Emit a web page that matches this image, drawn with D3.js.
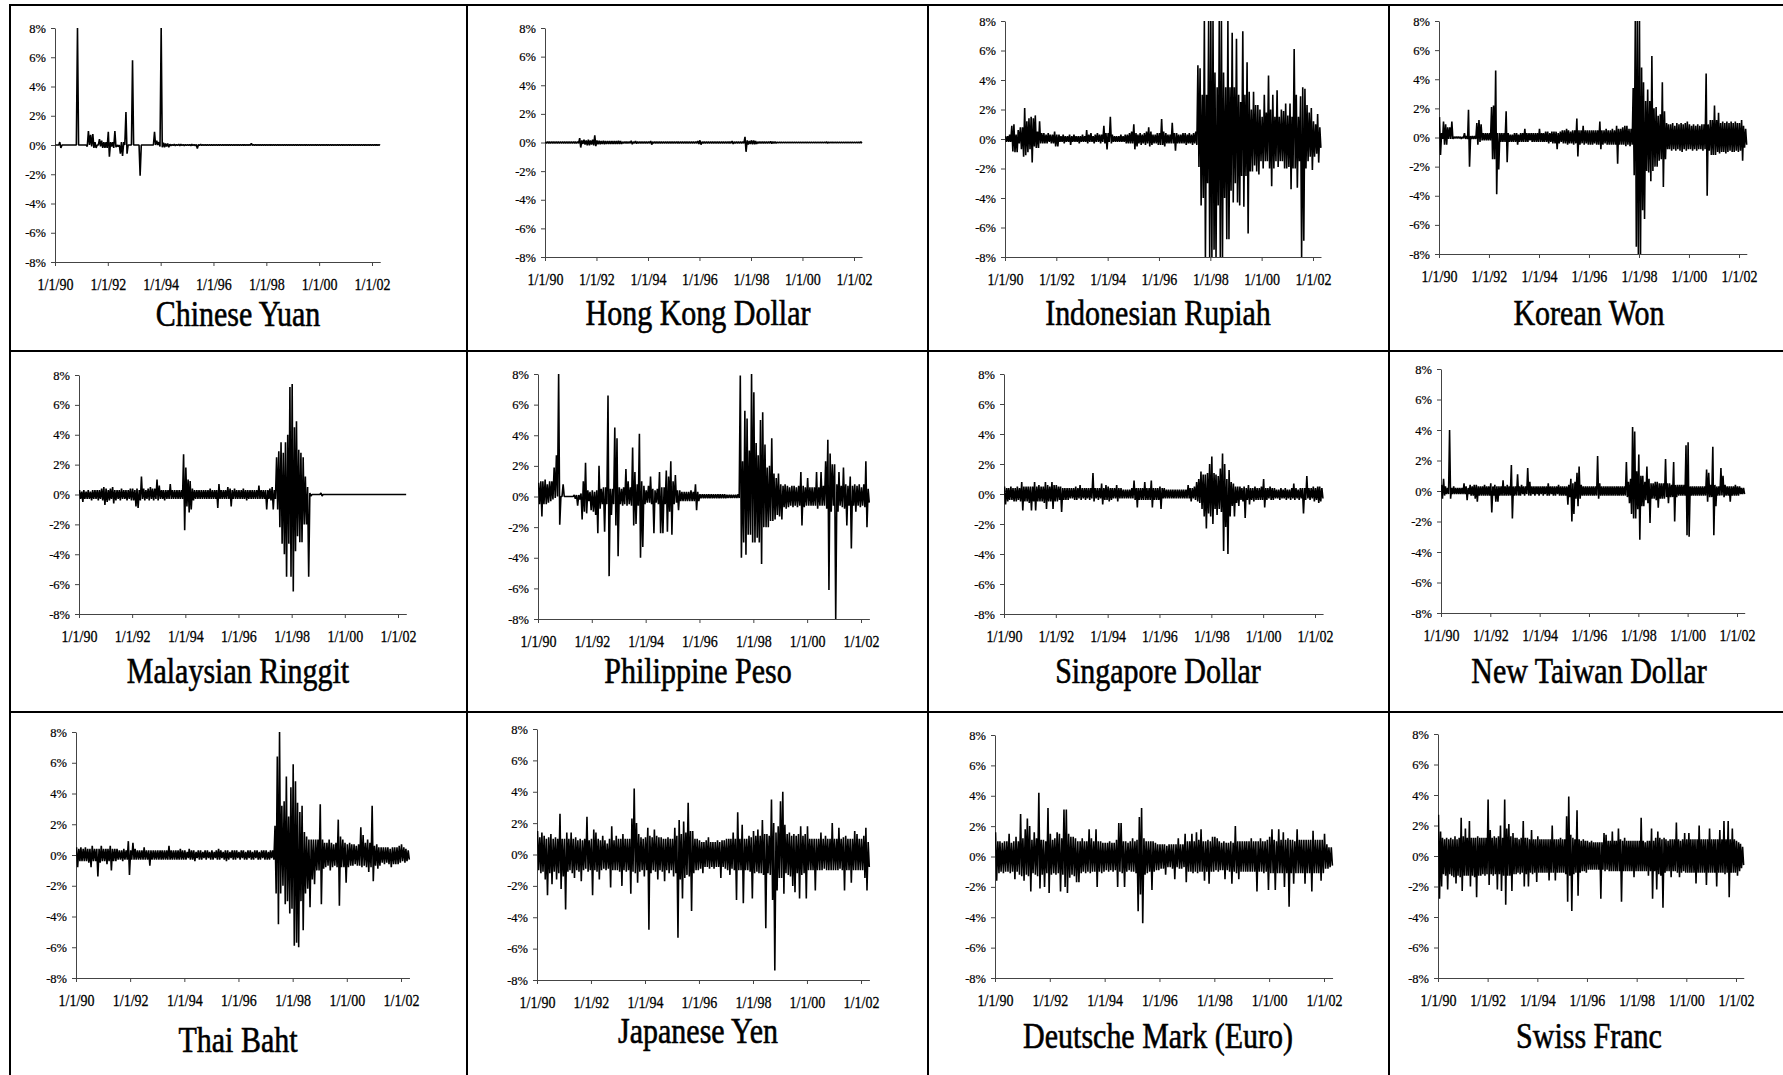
<!DOCTYPE html>
<html>
<head>
<meta charset="utf-8">
<script src="https://cdn.jsdelivr.net/npm/d3@7/dist/d3.min.js"></script>
<style>
  html, body { margin: 0; padding: 0; background: #fff; }
  svg { display: block; }
</style>
</head>
<body>
<svg id="chart" width="1783" height="1075"></svg>
<script>
// Daily exchange-rate returns (%), 1/1990 - 4/2002, summarised as the
// high and low reading of each month (Jan 1990 ... Apr 2002, 148 months).

const currencies = [
  "Chinese Yuan", "Hong Kong Dollar", "Indonesian Rupiah", "Korean Won",
  "Malaysian Ringgit", "Philippine Peso", "Singapore Dollar", "New Taiwan Dollar",
  "Thai Baht", "Japanese Yen", "Deutsche Mark (Euro)", "Swiss Franc"
];
const yTicks = [-8, -6, -4, -2, 0, 2, 4, 6, 8];
const xTickYears = [1990, 1992, 1994, 1996, 1998, 2000, 2002];

const cnyHigh = [
  0,0,0.2,0,0,0,0,0,0,0,8,0,
  0,0,0,0.95,0.7,0.75,0.2,0,0.4,0.3,0.2,0.2,
  0.9,0.2,0.2,0.95,0,0,0.2,0.2,2.25,0,0,5.8,
  0,0,0,0,0,0,0,0,0,0.9,0.3,0.2,
  8,0.15,0.1,0.1,0.05,0.03,0.05,0.03,0.05,0.05,0.03,0.03,
  0.03,0.03,0.05,0.03,0.03,0.03,0.05,0.03,0.03,0.03,0.03,0.03,
  0.03,0.02,0.02,0.03,0.02,0.02,0.02,0.02,0.03,0.02,0.02,0.02,
  0.02,0.02,0.02,0.02,0.02,0.1,0.02,0.02,0.02,0.02,0.02,0.02,
  0.02,0.02,0.02,0.02,0.02,0.02,0.02,0.02,0.02,0.02,0.02,0.02,
  0.02,0.02,0.02,0.02,0.02,0.02,0.02,0.02,0.02,0.02,0.02,0.02,
  0.02,0.02,0.02,0.02,0.02,0.02,0.02,0.02,0.02,0.02,0.02,0.02,
  0.02,0.02,0.02,0.02,0.02,0.02,0.02,0.02,0.02,0.02,0.02,0.02,
  0.02,0.02,0.02,0.02
];
const cnyLow = [
  0,0,-0.2,0,0,0,0,0,0,0,0,0,
  0,0,-0.1,0,-0.1,-0.2,-0.2,0,-0.1,-0.2,-0.2,-0.2,
  -0.8,-0.1,-0.2,-0.15,-0.1,-0.6,-0.75,0,-0.6,0,0,0,
  0,0,-2.1,0,0,0,0,0,0,0,0,-0.1,
  -0.15,-0.15,-0.1,-0.15,-0.05,-0.03,-0.05,-0.03,-0.05,-0.03,-0.05,-0.03,
  -0.03,-0.05,-0.03,-0.05,-0.25,-0.03,-0.03,-0.03,-0.03,-0.03,-0.03,-0.03,
  -0.02,-0.03,-0.02,-0.02,-0.02,-0.02,-0.02,-0.02,-0.02,-0.02,-0.02,-0.02,
  -0.02,-0.02,-0.02,-0.02,-0.02,-0.02,-0.02,-0.02,-0.02,-0.02,-0.02,-0.02,
  -0.02,-0.02,-0.02,-0.02,-0.02,-0.02,-0.02,-0.02,-0.02,-0.02,-0.02,-0.02,
  -0.02,-0.02,-0.02,-0.02,-0.02,-0.02,-0.02,-0.02,-0.02,-0.02,-0.02,-0.02,
  -0.02,-0.02,-0.02,-0.02,-0.02,-0.02,-0.02,-0.02,-0.02,-0.02,-0.02,-0.02,
  -0.02,-0.02,-0.02,-0.02,-0.02,-0.02,-0.02,-0.02,-0.02,-0.02,-0.02,-0.02,
  -0.02,-0.02,-0.02,-0.02
];

const hkdHigh = [
  0.05,0.05,0.05,0.05,0.05,0.05,0.05,0.05,0.05,0.05,0.05,0.05,
  0.05,0.05,0.05,0.05,0.3,0.15,0.2,0.15,0.2,0.15,0.2,0.5,
  0.15,0.12,0.1,0.12,0.1,0.1,0.1,0.1,0.1,0.1,0.12,0.1,
  0.05,0.05,0.05,0.05,0.12,0.05,0.1,0.05,0.05,0.05,0.05,0.05,
  0.05,0.1,0.05,0.05,0.05,0.05,0.05,0.05,0.05,0.05,0.05,0.05,
  0.05,0.05,0.05,0.05,0.05,0.05,0.05,0.05,0.05,0.05,0.05,0.1,
  0.15,0.05,0.05,0.05,0.05,0.05,0.05,0.05,0.05,0.05,0.05,0.05,
  0.05,0.05,0.05,0.1,0.05,0.05,0.05,0.05,0.05,0.4,0.15,0.1,
  0.15,0.15,0.1,0.05,0.05,0.05,0.05,0.05,0.05,0.08,0.05,0.05,
  0.03,0.03,0.03,0.03,0.03,0.03,0.03,0.03,0.03,0.03,0.03,0.03,
  0.03,0.03,0.03,0.03,0.03,0.03,0.03,0.03,0.03,0.03,0.03,0.05,
  0.03,0.03,0.03,0.03,0.03,0.03,0.03,0.03,0.03,0.03,0.03,0.03,
  0.03,0.03,0.03,0.05
];
const hkdLow = [
  -0.05,-0.05,-0.05,-0.05,-0.05,-0.05,-0.05,-0.05,-0.05,-0.05,-0.05,-0.05,
  -0.05,-0.05,-0.05,-0.05,-0.35,-0.1,-0.15,-0.2,-0.2,-0.15,-0.2,-0.25,
  -0.12,-0.12,-0.1,-0.12,-0.1,-0.1,-0.1,-0.1,-0.1,-0.1,-0.1,-0.1,
  -0.05,-0.05,-0.05,-0.05,-0.12,-0.05,-0.08,-0.05,-0.05,-0.05,-0.05,-0.05,
  -0.05,-0.15,-0.05,-0.05,-0.05,-0.05,-0.05,-0.05,-0.05,-0.05,-0.05,-0.05,
  -0.05,-0.05,-0.05,-0.05,-0.05,-0.05,-0.05,-0.05,-0.05,-0.05,-0.05,-0.1,
  -0.15,-0.05,-0.05,-0.05,-0.05,-0.05,-0.05,-0.05,-0.05,-0.05,-0.05,-0.05,
  -0.05,-0.05,-0.05,-0.1,-0.05,-0.05,-0.05,-0.05,-0.05,-0.65,-0.15,-0.1,
  -0.12,-0.12,-0.1,-0.05,-0.05,-0.05,-0.05,-0.05,-0.05,-0.08,-0.05,-0.05,
  -0.03,-0.03,-0.03,-0.03,-0.03,-0.03,-0.03,-0.03,-0.03,-0.03,-0.03,-0.03,
  -0.03,-0.03,-0.03,-0.03,-0.03,-0.03,-0.03,-0.03,-0.03,-0.03,-0.03,-0.05,
  -0.03,-0.03,-0.03,-0.03,-0.03,-0.03,-0.03,-0.03,-0.03,-0.03,-0.03,-0.03,
  -0.03,-0.03,-0.03,-0.05
];

const idrHigh = [
  0.2,0.2,0.3,0.9,1.0,0.3,0.6,0.8,0.8,2.1,1.2,1.4,
  1.5,1.4,1.6,0.5,1.2,0.4,0.4,0.3,0.4,0.3,0.3,0.5,
  0.3,0.3,0.2,0.3,0.2,0.2,0.3,0.2,0.3,0.2,0.2,0.2,
  0.3,0.2,0.6,0.3,0.4,0.2,0.3,0.4,0.3,0.3,0.9,0.4,
  0.4,1.5,0.3,0.2,0.2,0.2,0.3,0.2,0.3,0.3,0.4,0.5,
  1.0,0.4,0.3,0.4,0.3,0.4,0.5,0.8,0.5,0.3,0.3,0.4,
  0.4,1.35,0.5,0.4,0.3,0.3,1.1,0.4,0.4,0.3,0.3,0.4,
  0.4,0.3,0.4,0.3,0.4,0.5,5.0,4.8,3.0,8,3.0,8,
  8,8,4.5,3.5,8,8,4.5,3.5,8,3.5,7.2,3.5,
  6.8,3.0,2.5,7.3,3.0,5.2,3.2,2.0,3.2,2.3,2.3,2.0,
  1.5,3.0,1.8,4.3,2.0,3.0,1.5,3.3,1.5,2.0,1.9,2.4,
  1.6,2.4,1.5,6.1,3.0,1.5,2.9,3.5,3.4,2.3,1.8,2.1,
  1.2,1.0,1.7,0.8
];
const idrLow = [
  -0.2,-0.2,-0.2,-0.85,-0.9,-0.9,-0.3,-0.7,-1.2,-1.1,-0.9,-0.7,
  -1.6,-0.5,-0.6,-0.6,-0.3,-0.3,-0.3,-0.3,-0.2,-0.3,-0.3,-0.5,
  -0.5,-0.2,-0.2,-0.3,-0.2,-0.2,-0.4,-0.2,-0.2,-0.2,-0.3,-0.2,
  -0.2,-0.2,-0.3,-0.2,-0.2,-0.3,-0.2,-0.2,-0.3,-0.2,-0.3,-0.7,
  -0.2,-0.3,-0.2,-0.2,-0.2,-0.2,-0.2,-0.2,-0.3,-0.3,-0.3,-0.3,
  -0.7,-0.5,-0.3,-0.4,-0.3,-0.4,-0.3,-0.5,-0.4,-0.3,-0.3,-0.4,
  -0.4,-0.4,-0.5,-0.3,-0.3,-0.3,-0.3,-0.8,-0.3,-0.3,-0.3,-0.3,
  -0.4,-0.3,-0.3,-0.4,-0.3,-0.4,-1.9,-4.5,-4.0,-8,-3.0,-8,
  -8,-7.5,-8,-4.5,-8,-8,-4.0,-6.8,-6.8,-3.5,-4.3,-3.0,
  -4.3,-4.5,-2.5,-4.6,-2.5,-6.4,-2.2,-2.2,-1.8,-2.2,-2.4,-1.5,
  -2.0,-1.5,-1.5,-2.0,-3.2,-2.0,-1.5,-1.9,-1.5,-1.5,-2.0,-2.0,
  -1.9,-3.4,-2.0,-2.0,-3.3,-1.5,-8,-6.9,-2.0,-1.5,-1.2,-2.1,
  -1.2,-1.0,-1.6,-0.6
];

const krwHigh = [
  1.4,0.3,1.1,0.9,0.7,0.7,1.1,0.05,0.05,0.05,0.05,0.05,
  0.3,0.1,1.9,0.1,0.1,0.1,1.0,1.2,0.9,0.3,0.3,0.3,
  0.3,2.1,2.2,4.6,0.3,0.3,0.3,0.3,1.8,0.3,0.2,0.2,
  0.3,0.3,0.2,0.3,0.3,0.6,0.3,0.3,0.3,0.3,0.3,0.3,
  0.6,0.3,0.3,0.4,0.4,0.3,0.4,0.4,0.4,0.3,0.4,0.5,
  0.5,0.6,0.5,0.4,0.5,0.5,1.3,0.5,0.5,0.8,0.5,0.5,
  0.5,0.5,0.5,0.5,0.5,1.1,0.5,0.5,0.6,0.5,0.5,0.6,
  0.5,0.8,0.6,0.6,0.7,0.8,0.8,0.6,0.6,3.4,8,8,
  8,4.8,3.8,2.5,3.3,2.5,5.6,2.0,2.1,1.5,1.6,3.8,
  1.8,1.0,0.9,0.9,1.0,0.8,1.0,0.9,1.0,0.9,1.0,1.1,
  0.9,0.8,0.9,0.8,0.9,0.8,0.9,0.9,4.4,0.9,1.2,1.2,
  2.2,1.2,1.7,1.0,1.1,1.0,1.1,1.0,1.1,1.0,1.1,1.0,
  1.0,1.2,0.8,0.6
];
const krwLow = [
  -1.2,-0.1,-0.5,-0.5,-0.1,-0.1,-0.1,-0.05,-0.05,-0.05,-0.1,-0.05,
  -0.1,-0.1,-2.0,-0.1,-0.1,-0.1,-0.5,-0.3,-0.2,-0.2,-0.2,-0.2,
  -0.2,-1.5,-1.5,-3.9,-2.2,-0.3,-0.3,-0.3,-1.7,-0.3,-0.3,-0.3,
  -0.3,-0.5,-0.3,-0.3,-0.3,-0.3,-0.3,-0.2,-0.3,-0.3,-0.3,-0.3,
  -0.3,-0.3,-0.3,-0.3,-0.4,-0.3,-0.4,-0.4,-0.8,-0.4,-0.3,-0.4,
  -0.4,-0.5,-0.4,-0.4,-0.5,-0.4,-1.3,-0.5,-0.4,-0.5,-0.4,-0.5,
  -0.5,-0.5,-0.4,-0.5,-0.5,-0.8,-0.5,-0.4,-0.5,-0.5,-0.5,-0.5,
  -0.5,-1.8,-0.5,-0.5,-0.5,-0.6,-0.5,-0.6,-0.5,-2.6,-7.5,-8,
  -8,-5.0,-5.6,-2.3,-2.4,-3.0,-2.3,-2.0,-2.0,-1.6,-1.5,-3.4,
  -1.5,-0.8,-0.8,-0.9,-0.8,-0.9,-0.8,-0.9,-1.0,-0.8,-0.9,-0.8,
  -0.8,-0.9,-0.8,-0.9,-0.8,-0.8,-0.9,-0.8,-4.0,-0.9,-1.2,-1.2,
  -1.2,-1.0,-1.1,-1.0,-1.0,-1.1,-1.0,-0.9,-1.0,-1.0,-0.9,-1.0,
  -0.9,-1.6,-0.7,-0.5
];

const myrHigh = [
  0.3,0.2,0.3,0.2,0.3,0.2,0.3,0.3,0.3,0.3,0.4,0.5,
  0.4,0.3,0.4,0.5,0.3,0.3,0.3,0.4,0.3,0.3,0.3,0.4,
  0.4,0.3,0.4,0.3,1.2,0.4,0.3,0.4,0.5,0.4,0.4,1.0,
  0.6,0.3,0.3,0.3,0.3,0.7,0.3,0.3,0.3,0.3,0.3,2.7,
  1.8,1.0,0.9,0.4,0.3,0.3,0.3,0.3,0.3,0.3,0.3,0.4,
  0.3,0.3,0.3,0.7,0.3,0.3,0.3,0.5,0.4,0.3,0.4,0.3,
  0.3,0.3,0.4,0.3,0.3,0.3,0.3,0.3,0.3,0.6,0.3,0.3,
  0.3,0.3,0.4,0.5,0.3,2.5,2.9,3.5,2.8,3.5,4.0,7.2,
  7.4,4.5,4.9,3.0,2.8,2.5,1.2,0.5,0.1,0,0,0,
  0,0.1,0,0,0,0,0,0,0,0,0,0,
  0,0,0,0,0,0,0,0,0,0,0,0,
  0,0,0,0,0,0,0,0,0,0,0,0,
  0,0,0,0
];
const myrLow = [
  -0.3,-0.5,-0.3,-0.3,-0.3,-0.4,-0.3,-0.3,-0.4,-0.3,-0.4,-0.7,
  -0.5,-0.4,-0.3,-0.6,-0.4,-0.3,-0.4,-0.3,-0.3,-0.4,-0.3,-0.4,
  -0.4,-0.8,-0.9,-0.4,-0.3,-0.4,-0.3,-0.4,-0.3,-0.4,-0.3,-0.4,
  -0.3,-0.3,-0.4,-0.3,-0.3,-0.3,-0.3,-0.3,-0.3,-0.3,-0.3,-2.4,
  -0.8,-1.2,-1.0,-0.4,-0.3,-0.3,-0.3,-0.3,-0.3,-0.3,-0.3,-0.3,
  -0.3,-0.3,-0.9,-0.3,-0.3,-0.3,-0.3,-0.3,-0.8,-0.3,-0.3,-0.3,
  -0.3,-0.3,-0.3,-0.4,-0.3,-0.3,-0.3,-0.3,-0.3,-0.3,-0.3,-0.3,
  -1.0,-0.3,-0.4,-1.0,-0.3,-1.0,-2.2,-3.3,-4.0,-5.5,-3.3,-5.5,
  -6.5,-3.8,-2.8,-3.2,-3.2,-2.0,-2.0,-5.5,-0.1,0,0,0,
  0,-0.1,0,0,0,0,0,0,0,0,0,0,
  0,0,0,0,0,0,0,0,0,0,0,0,
  0,0,0,0,0,0,0,0,0,0,0,0,
  0,0,0,0
];

const phpHigh = [
  0.9,1.0,1.0,1.1,0.8,1.0,1.0,1.9,2.7,8,0,0.8,
  0,0,0,0,0.1,0.1,0.1,0.2,1.0,2.2,0.4,0.3,
  0.4,0.3,0.4,2.0,0.5,0.6,0.6,6.6,0.5,0.5,4.5,3.8,
  0.6,0.5,0.6,1.8,1.0,0.6,3.2,1.6,0.8,4.1,1.0,0.7,
  0.4,0.7,1.3,0.5,0.4,0.5,1.6,0.6,0.6,1.7,1.3,2.3,
  1.0,1.4,0.4,0.4,0.3,0.3,0.3,0.3,0.4,0.3,0.8,0.3,
  0.15,0.15,0.15,0.15,0.15,0.15,0.15,0.15,0.15,0.15,0.15,0.15,
  0.12,0.12,0.12,0.12,0.12,0.15,7.9,2.3,5.6,5.1,3.0,8,
  6.8,3.5,2.7,5.0,5.5,3.4,1.9,2.0,3.8,1.5,1.2,1.5,
  0.8,0.7,0.8,0.7,0.6,0.7,0.7,0.6,0.7,1.6,0.7,0.6,
  1.2,0.6,0.6,0.6,1.6,0.6,1.6,0.7,2.3,3.7,2.8,2.1,
  2.1,0.8,1.6,0.7,1.9,0.8,0.7,1.3,0.7,0.8,0.7,0.8,
  0.6,0.8,2.3,0.5
];
const phpLow = [
  -0.5,-1.3,-0.5,-0.5,-0.4,-0.3,-0.2,-0.1,0,-1.85,0,0,
  0,0,0,0,-0.15,-0.6,-0.2,-1.5,-1.0,-1.1,-0.3,-0.9,
  -1.0,-1.2,-2.4,-0.8,-0.5,-2.3,-0.5,-5.2,-1.2,-0.5,-1.9,-3.9,
  -0.5,-0.6,-0.5,-0.6,-0.5,-0.6,-1.9,-1.8,-0.6,-4.0,-3.3,-0.5,
  -0.4,-0.4,-0.5,-2.4,-0.4,-0.5,-2.4,-2.4,-0.5,-2.3,-1.0,-2.5,
  -0.5,-0.4,-0.9,-0.3,-0.3,-0.3,-0.3,-0.3,-0.3,-0.3,-0.9,-0.3,
  -0.12,-0.12,-0.12,-0.12,-0.12,-0.12,-0.12,-0.12,-0.12,-0.12,-0.12,-0.12,
  -0.1,-0.1,-0.1,-0.1,-0.1,-0.1,-4.0,-3.0,-3.8,-2.5,-2.5,-3.0,
  -3.0,-2.7,-3.0,-4.4,-2.0,-2.0,-2.0,-1.6,-1.6,-1.5,-1.2,-1.3,
  -1.5,-0.7,-0.8,-0.7,-0.6,-0.7,-0.6,-0.7,-0.6,-1.9,-0.7,-0.6,
  -0.6,-0.6,-0.6,-0.6,-0.8,-0.6,-0.6,-0.6,-0.8,-6.1,-1.0,-0.6,
  -8,-1.0,-0.6,-0.7,-0.8,-1.9,-0.6,-3.4,-0.6,-1.0,-0.6,-0.7,
  -0.6,-0.7,-2.0,-0.4
];

const sgdHigh = [
  0.5,0.4,0.4,0.5,0.4,0.4,0.5,0.4,0.8,0.5,0.5,0.5,
  0.5,0.5,0.8,0.5,0.6,0.5,0.5,0.8,0.6,0.5,0.8,0.6,
  0.6,0.5,0.5,0.4,0.4,0.4,0.4,0.4,0.4,0.5,0.4,0.6,
  0.4,0.4,0.4,0.4,0.4,1.4,0.4,0.4,0.4,0.7,0.4,0.6,
  0.5,0.4,0.4,0.4,0.6,0.4,0.4,0.3,0.3,0.3,0.3,0.4,
  0.9,0.4,0.4,0.4,0.4,0.8,0.4,0.4,0.9,0.4,0.4,0.4,
  0.5,0.4,0.4,0.3,0.3,0.3,0.3,0.3,0.3,0.3,0.3,0.3,
  0.3,0.6,0.4,0.4,0.5,0.8,1.0,1.5,1.3,1.3,1.4,2.0,
  2.5,1.4,1.3,1.2,1.7,2.7,2.0,1.0,1.6,0.8,0.7,0.5,
  0.5,0.5,0.4,0.5,0.4,0.6,0.4,0.4,0.5,0.4,0.4,0.5,
  1.0,0.4,0.4,0.5,0.4,0.4,0.3,0.3,0.4,0.3,0.4,0.3,
  0.3,0.4,0.7,0.4,0.3,0.4,0.4,0.4,1.2,0.4,0.4,0.5,
  0.4,0.5,0.5,0.4
];
const sgdLow = [
  -0.7,-0.5,-0.4,-0.4,-0.5,-0.5,-0.4,-0.5,-1.1,-0.5,-0.5,-0.6,
  -1.1,-0.5,-1.1,-0.5,-0.5,-0.5,-0.6,-1.0,-0.5,-0.5,-1.0,-0.5,
  -0.5,-0.4,-1.2,-0.4,-0.4,-0.4,-0.3,-0.3,-0.4,-0.4,-0.3,-0.4,
  -0.3,-0.4,-0.3,-0.4,-0.3,-0.5,-0.3,-0.4,-0.3,-0.7,-0.4,-0.4,
  -0.5,-0.4,-0.3,-0.3,-0.5,-0.3,-0.3,-0.3,-0.3,-0.3,-0.3,-0.3,
  -0.4,-0.9,-0.4,-0.4,-0.4,-0.4,-0.4,-0.4,-0.9,-0.4,-0.4,-0.4,
  -1.0,-0.3,-0.3,-0.3,-0.3,-0.3,-0.3,-0.3,-0.3,-0.3,-0.3,-0.3,
  -0.3,-0.3,-0.5,-0.3,-0.4,-0.5,-0.6,-1.0,-1.5,-2.3,-1.3,-1.5,
  -2.0,-1.0,-1.4,-1.0,-1.2,-3.8,-2.2,-4.0,-1.5,-0.8,-1.5,-0.6,
  -0.8,-0.4,-0.5,-1.6,-0.4,-0.7,-0.4,-0.5,-0.4,-0.4,-0.4,-0.4,
  -0.9,-0.4,-0.3,-0.4,-0.4,-0.3,-0.3,-0.4,-0.3,-0.3,-0.4,-0.3,
  -0.4,-0.3,-0.4,-0.3,-0.4,-0.3,-1.3,-0.4,-0.3,-0.4,-0.3,-0.5,
  -0.4,-0.6,-0.5,-0.3
];

const twdHigh = [
  0.4,0.8,0.3,0.2,4.0,0.2,0.3,0.2,0.2,0.2,0.2,0.5,
  0.3,0.2,0.4,0.3,0.4,0.4,0.3,0.3,0.3,0.4,0.3,0.3,
  0.5,0.3,0.4,0.3,0.3,0.3,0.7,0.3,0.4,0.3,1.7,0.3,
  0.3,1.1,0.3,0.4,0.3,0.3,1.5,0.6,0.3,0.3,0.3,0.3,
  0.3,0.3,0.3,0.3,0.5,0.3,0.3,0.3,0.3,0.4,0.3,0.3,
  0.3,0.3,0.4,0.8,0.5,0.6,1.2,1.6,0.4,0.3,0.3,0.3,
  0.3,0.3,0.3,0.3,2.3,0.5,0.3,0.3,0.3,0.3,0.3,0.3,
  0.3,0.3,0.3,0.3,0.3,0.3,1.9,0.6,0.8,4.2,3.9,1.3,
  2.4,1.0,1.0,0.6,1.6,0.8,0.5,0.5,0.6,0.6,0.5,0.5,
  0.5,2.1,0.5,0.5,0.4,1.9,0.4,0.4,0.4,0.4,0.4,3.0,
  3.2,0.3,0.3,0.3,0.3,0.3,0.3,0.3,0.3,1.4,1.2,0.4,
  2.9,0.4,0.3,0.3,1.5,1.0,0.4,0.3,0.3,0.3,0.3,0.4,
  0.3,0.3,0.2,0.2
];
const twdLow = [
  -0.5,-0.3,-0.2,-0.2,-0.5,-0.2,-0.2,-0.2,-0.2,-0.2,-0.2,-0.2,
  -0.6,-0.2,-0.3,-0.3,-0.5,-0.7,-0.3,-0.3,-0.3,-0.3,-0.3,-0.3,
  -1.4,-0.3,-0.7,-0.7,-0.3,-0.3,-0.3,-0.3,-0.3,-0.3,-1.8,-0.3,
  -0.3,-0.3,-0.3,-0.2,-0.3,-0.2,-0.3,-0.3,-0.2,-0.3,-0.2,-0.3,
  -0.2,-0.3,-0.2,-0.3,-0.3,-0.2,-0.3,-0.3,-0.2,-0.3,-0.3,-0.3,
  -0.3,-0.9,-0.4,-2.0,-1.5,-0.5,-1.0,-0.5,-0.3,-0.3,-0.3,-0.3,
  -0.3,-0.3,-0.3,-0.3,-0.5,-0.3,-0.3,-0.3,-0.3,-0.3,-0.3,-0.3,
  -0.3,-0.3,-0.3,-0.3,-0.3,-0.3,-0.4,-0.8,-1.5,-1.8,-1.8,-1.2,
  -3.2,-1.0,-1.0,-0.6,-0.8,-2.1,-0.5,-0.5,-0.6,-1.1,-0.5,-0.5,
  -0.5,-0.4,-0.8,-0.4,-0.4,-2.0,-0.4,-0.3,-0.3,-0.3,-0.3,-2.9,
  -3.0,-0.3,-0.3,-0.3,-0.3,-0.3,-0.3,-0.3,-0.3,-0.7,-0.4,-0.4,
  -2.9,-1.0,-0.3,-0.3,-0.3,-0.4,-0.3,-0.3,-0.7,-0.3,-0.3,-0.3,
  -0.3,-0.2,-0.2,-0.2
];

const thbHigh = [
  0.5,0.4,0.5,0.4,0.5,0.4,0.4,0.6,0.4,0.4,0.4,0.6,
  0.4,0.4,0.4,0.6,0.4,0.4,0.4,0.3,0.3,0.4,0.3,0.9,
  0.3,0.8,0.4,0.3,0.3,0.3,0.5,0.3,0.3,0.3,0.3,0.3,
  0.3,0.3,0.3,0.3,0.3,0.6,0.3,0.3,0.3,0.3,0.4,0.3,
  0.3,0.2,0.4,0.3,0.3,0.2,0.3,0.3,0.2,0.3,0.3,0.2,
  0.3,0.2,0.3,0.4,0.3,0.2,0.3,0.3,0.2,0.3,0.3,0.3,
  0.2,0.3,0.3,0.2,0.3,0.3,0.2,0.3,0.3,0.2,0.3,0.3,
  0.3,0.2,0.3,0.3,1.9,6.4,8,3.2,3.5,5.1,2.5,4.4,
  5.9,4.8,3.4,2.8,3.2,1.5,1.2,1.0,1.0,1.0,1.0,1.0,
  3.3,1.0,0.8,0.8,1.0,0.8,0.7,0.8,2.3,1.2,1.0,0.8,
  0.7,0.8,0.7,0.7,0.6,0.7,1.8,1.3,0.8,1.0,0.8,3.2,
  0.6,0.7,0.5,0.5,0.5,0.5,0.5,0.4,0.5,0.5,0.5,0.6,
  0.7,0.5,0.4,0.3
];
const thbLow = [
  -0.8,-0.4,-0.4,-0.4,-0.4,-0.5,-0.8,-0.4,-0.4,-1.4,-0.5,-0.4,
  -0.4,-0.6,-0.4,-1.0,-0.4,-0.4,-0.3,-0.3,-0.4,-0.3,-0.3,-1.3,
  -0.3,-0.3,-0.3,-0.3,-0.3,-0.3,-0.3,-0.3,-0.7,-0.3,-0.3,-0.3,
  -0.3,-0.3,-0.3,-0.3,-0.3,-0.3,-0.3,-0.3,-0.3,-0.3,-0.3,-0.3,
  -0.3,-0.2,-0.3,-0.3,-0.4,-0.2,-0.3,-0.3,-0.2,-0.3,-0.2,-0.3,
  -0.3,-0.2,-0.3,-0.3,-0.2,-0.3,-0.4,-0.3,-0.2,-0.3,-0.3,-0.2,
  -0.3,-0.2,-0.3,-0.3,-0.2,-0.3,-0.3,-0.2,-0.3,-0.3,-0.2,-0.3,
  -0.3,-0.3,-0.2,-0.3,-2.5,-4.5,-2.5,-2.0,-3.2,-3.0,-3.8,-3.5,
  -5.9,-5.7,-6.0,-3.0,-4.9,-2.5,-2.2,-3.4,-1.6,-1.9,-1.0,-1.0,
  -3.2,-0.9,-0.8,-0.7,-1.0,-0.8,-0.7,-0.8,-3.3,-0.8,-0.8,-1.8,
  -0.8,-0.7,-0.7,-0.6,-0.7,-0.7,-0.8,-0.7,-0.8,-1.1,-0.8,-1.7,
  -0.7,-0.9,-0.7,-0.5,-0.6,-0.5,-0.6,-0.8,-0.6,-0.6,-0.6,-0.5,
  -0.4,-0.5,-0.4,-0.3
];

const jpyHigh = [
  1.5,1.1,1.4,1.2,1.0,1.1,1.3,1.0,1.1,1.0,2.6,1.0,
  1.0,1.4,1.0,1.4,1.0,1.1,0.9,1.0,0.9,1.0,2.4,0.9,
  1.0,1.6,1.4,1.0,0.9,1.2,0.9,0.7,1.0,1.8,0.9,1.2,
  1.0,1.0,1.3,1.0,1.0,1.0,2.3,4.2,2.0,1.3,1.1,1.0,
  1.1,1.7,1.2,1.1,1.6,1.2,1.1,1.1,1.0,1.0,1.1,1.0,
  1.0,1.7,1.2,2.2,1.3,2.1,1.4,3.3,1.5,1.5,1.0,1.0,
  0.9,0.8,0.8,0.9,1.1,0.8,0.8,0.8,0.9,0.8,0.9,0.9,
  1.0,1.0,1.0,1.4,1.0,2.7,1.0,1.9,1.0,1.0,1.2,1.1,
  1.5,1.2,1.6,1.2,2.2,1.3,1.3,1.2,3.5,2.0,1.4,1.8,
  3.4,4.0,1.9,1.3,1.4,1.2,1.3,1.2,1.3,1.8,1.2,1.3,
  1.8,1.0,1.0,1.0,1.0,1.0,1.4,1.0,1.2,1.0,1.0,2.0,
  1.0,1.0,1.7,1.0,1.1,1.2,1.0,1.0,1.0,1.5,1.3,1.0,
  1.0,1.2,1.7,0.8
];
const jpyLow = [
  -1.0,-1.2,-1.1,-1.6,-2.6,-1.2,-1.9,-1.1,-1.6,-1.2,-2.2,-1.4,
  -3.5,-1.1,-1.0,-1.2,-1.5,-1.0,-1.1,-1.7,-1.0,-0.9,-1.1,-1.0,
  -2.6,-1.0,-1.1,-1.6,-1.0,-0.9,-1.0,-0.9,-2.1,-1.0,-1.0,-1.0,
  -1.1,-2.0,-1.0,-1.1,-1.0,-2.5,-1.1,-1.2,-1.8,-1.1,-1.0,-1.4,
  -1.0,-4.8,-1.2,-1.0,-1.1,-1.6,-1.0,-1.1,-1.7,-1.0,-1.2,-1.0,
  -1.4,-1.2,-5.3,-1.6,-2.8,-1.5,-1.3,-1.4,-3.6,-1.2,-1.0,-1.0,
  -0.9,-1.2,-0.8,-0.8,-0.9,-0.8,-0.9,-0.8,-0.8,-1.5,-0.8,-0.9,
  -1.0,-1.3,-0.9,-1.0,-2.9,-1.0,-1.0,-3.1,-1.0,-1.0,-1.1,-2.8,
  -1.2,-1.1,-1.2,-1.2,-1.3,-4.7,-1.2,-1.3,-2.9,-7.4,-2.3,-1.5,
  -1.5,-2.5,-1.2,-1.3,-1.4,-2.0,-2.4,-1.2,-2.8,-1.3,-1.2,-2.8,
  -1.0,-1.0,-1.0,-2.3,-1.0,-1.0,-1.0,-0.9,-1.0,-1.0,-1.0,-1.0,
  -1.0,-1.0,-0.9,-1.0,-2.3,-1.0,-1.0,-1.8,-1.0,-1.0,-1.0,-1.0,
  -1.0,-1.5,-2.3,-0.8
];

const demHigh = [
  1.6,1.0,1.0,0.9,1.0,1.0,1.5,0.9,1.0,1.3,1.0,2.8,
  1.2,1.8,2.5,2.0,1.1,1.6,1.2,4.2,1.1,1.1,1.0,3.2,
  1.5,1.1,1.2,1.6,1.5,1.2,3.1,3.1,1.5,1.3,1.3,1.2,
  1.0,1.0,1.2,1.0,1.0,1.8,1.2,1.0,1.8,1.0,1.0,0.9,
  0.9,0.9,1.0,0.9,0.9,1.1,2.2,2.2,1.0,1.0,0.9,1.0,
  1.2,1.0,1.1,2.6,3.2,1.2,1.0,1.0,1.0,1.0,0.9,0.8,
  0.8,0.8,0.8,0.7,0.8,0.8,0.8,0.8,1.2,0.8,0.8,1.5,
  1.0,1.0,1.5,1.0,1.6,1.1,1.8,1.0,1.0,1.1,1.0,1.3,
  1.3,1.2,1.0,0.9,1.0,0.9,0.9,1.0,0.9,2.0,1.0,1.0,
  1.0,1.0,1.0,1.0,1.2,1.0,1.0,1.0,1.2,1.0,1.0,1.1,
  1.3,1.8,1.1,1.0,1.8,1.1,1.6,1.1,1.2,1.1,1.1,1.0,
  1.8,1.1,1.1,1.1,1.1,1.1,1.1,1.7,1.1,1.1,1.1,1.1,
  1.5,0.8,0.6,0.6
];
const demLow = [
  -1.6,-1.1,-1.0,-1.1,-1.0,-1.0,-1.1,-1.0,-1.5,-1.0,-1.2,-1.3,
  -1.6,-1.2,-1.3,-2.3,-1.1,-1.2,-1.3,-2.1,-1.2,-2.0,-1.1,-2.4,
  -1.2,-1.1,-1.2,-1.1,-2.3,-1.2,-2.0,-2.4,-1.4,-1.2,-1.3,-1.7,
  -1.7,-1.1,-1.0,-1.1,-1.0,-1.1,-1.0,-1.0,-2.0,-1.0,-1.1,-1.0,
  -0.9,-1.0,-0.9,-1.0,-0.9,-2.0,-1.0,-1.1,-2.0,-1.0,-0.9,-1.0,
  -1.0,-1.1,-3.6,-2.5,-4.4,-1.2,-1.1,-1.0,-2.2,-1.0,-0.9,-0.9,
  -0.8,-0.8,-1.2,-0.7,-0.7,-0.8,-1.5,-0.7,-0.8,-0.8,-0.7,-1.7,
  -1.0,-1.0,-1.1,-1.0,-1.1,-1.0,-1.0,-1.6,-1.0,-1.8,-1.0,-1.0,
  -0.9,-1.0,-0.9,-0.9,-1.5,-0.9,-1.0,-1.8,-1.0,-1.1,-1.5,-1.0,
  -1.0,-1.0,-1.0,-1.0,-1.0,-1.0,-2.3,-1.0,-1.0,-1.1,-1.0,-2.2,
  -1.1,-1.1,-2.2,-1.1,-1.1,-1.1,-2.0,-1.1,-3.3,-1.1,-1.8,-1.1,
  -1.1,-1.1,-1.1,-1.8,-1.1,-1.1,-2.3,-1.1,-1.1,-1.1,-1.6,-1.1,
  -0.8,-0.8,-0.7,-0.6
];

const chfHigh = [
  2.7,1.6,1.2,1.1,1.2,1.1,1.2,1.1,1.3,1.1,1.2,2.5,
  1.3,1.8,1.2,2.3,1.2,1.2,1.2,1.3,1.2,1.2,1.2,1.2,
  3.7,1.7,1.2,1.3,1.2,1.3,2.0,1.2,3.7,1.8,2.1,1.3,
  1.5,1.2,1.2,1.1,1.2,2.3,1.2,1.2,1.1,1.7,1.1,1.1,
  1.3,1.1,1.1,1.1,1.1,1.1,1.1,2.0,1.1,1.1,1.1,1.2,
  1.1,1.1,2.6,3.9,1.4,1.2,1.1,3.0,1.1,1.0,1.1,1.0,
  1.0,0.9,1.0,0.9,0.9,0.9,0.9,0.9,1.5,1.4,1.0,1.0,
  1.6,1.0,1.0,1.8,1.1,1.0,1.2,1.0,1.0,1.0,1.0,1.0,
  1.0,1.0,2.5,1.0,0.9,1.0,1.0,1.8,1.0,1.2,1.6,1.2,
  1.1,1.2,1.1,1.0,1.1,1.1,1.1,2.2,1.1,1.0,1.1,1.5,
  1.1,1.5,1.1,1.1,1.1,1.1,2.0,1.1,1.1,1.1,1.1,1.8,
  1.1,1.1,1.1,1.1,1.7,1.1,2.3,1.1,2.3,1.1,1.8,1.1,
  1.0,0.9,0.8,0.6
];
const chfLow = [
  -2.8,-2.0,-1.2,-1.3,-2.2,-1.2,-1.3,-1.4,-1.8,-1.3,-1.4,-2.3,
  -1.3,-1.3,-1.3,-2.0,-1.3,-1.4,-2.7,-1.3,-1.3,-1.2,-1.3,-1.2,
  -1.9,-1.2,-1.3,-1.2,-2.2,-1.2,-2.3,-1.3,-3.2,-1.3,-1.3,-2.3,
  -1.2,-1.2,-1.1,-1.2,-1.1,-2.0,-1.2,-2.0,-1.1,-1.2,-1.1,-1.7,
  -1.1,-1.1,-1.1,-1.1,-1.1,-1.6,-1.1,-1.1,-1.6,-1.1,-1.1,-1.1,
  -1.1,-1.2,-3.0,-1.3,-3.6,-1.2,-1.1,-2.6,-1.1,-1.0,-1.0,-1.1,
  -0.9,-0.9,-0.9,-0.9,-0.9,-0.9,-2.8,-0.9,-1.0,-0.9,-1.0,-1.0,
  -1.0,-1.0,-1.0,-1.0,-3.0,-1.0,-1.0,-1.0,-1.0,-1.0,-1.4,-1.0,
  -1.0,-1.0,-1.0,-1.0,-1.0,-1.3,-1.0,-2.8,-1.0,-2.2,-1.2,-1.3,
  -3.4,-1.1,-1.0,-1.0,-1.4,-1.0,-1.0,-1.1,-1.4,-1.1,-1.0,-1.1,
  -1.1,-1.1,-1.1,-1.1,-1.8,-1.1,-1.1,-1.1,-1.1,-1.9,-1.1,-1.1,
  -1.1,-1.1,-2.0,-1.1,-1.1,-1.1,-1.2,-1.1,-2.7,-1.1,-1.1,-1.1,
  -1.3,-1.0,-0.8,-0.6
];

const seriesHigh = [cnyHigh, hkdHigh, idrHigh, krwHigh, myrHigh, phpHigh,
                    sgdHigh, twdHigh, thbHigh, jpyHigh, demHigh, chfHigh];
const seriesLow  = [cnyLow, hkdLow, idrLow, krwLow, myrLow, phpLow,
                    sgdLow, twdLow, thbLow, jpyLow, demLow, chfLow];

// ---- page layout: one cell per currency, 4 columns x 3 rows ----
const layout = [
  { x0: 55,   x1: 372,  top: 28,  bottom: 262, tx: 238,  ty: 326 },
  { x0: 545,  x1: 854,  top: 28,  bottom: 257, tx: 698,  ty: 325 },
  { x0: 1005, x1: 1313, top: 21,  bottom: 257, tx: 1158, ty: 325 },
  { x0: 1439, x1: 1739, top: 21,  bottom: 254, tx: 1589, ty: 325 },
  { x0: 79,   x1: 398,  top: 375, bottom: 614, tx: 238,  ty: 683 },
  { x0: 538,  x1: 861,  top: 374, bottom: 619, tx: 698,  ty: 683 },
  { x0: 1004, x1: 1315, top: 374, bottom: 614, tx: 1158, ty: 683 },
  { x0: 1441, x1: 1737, top: 369, bottom: 613, tx: 1589, ty: 683 },
  { x0: 76,   x1: 401,  top: 732, bottom: 978, tx: 238,  ty: 1052 },
  { x0: 537,  x1: 861,  top: 729, bottom: 980, tx: 698,  ty: 1043 },
  { x0: 995,  x1: 1324, top: 735, bottom: 978, tx: 1158, ty: 1048 },
  { x0: 1438, x1: 1736, top: 734, bottom: 978, tx: 1589, ty: 1048 }
];
const gridX = [10, 467, 928, 1389];
const gridY = [5, 351, 712];

const START = new Date(1990, 0, 1);
const TICK_END = new Date(2002, 0, 1);
const AXIS_END = new Date(2002, 3, 25);
const SERIF = "'Liberation Serif', 'Times New Roman', serif";

const svg = d3.select("#chart");

// table rules
svg.append("g").selectAll("line").data(gridX).join("line")
  .attr("x1", d => d).attr("x2", d => d).attr("y1", 4).attr("y2", 1075)
  .attr("stroke", "#000").attr("stroke-width", 2);
svg.append("g").selectAll("line").data(gridY).join("line")
  .attr("x1", 9).attr("x2", 1783).attr("y1", d => d).attr("y2", d => d)
  .attr("stroke", "#000").attr("stroke-width", 2);

function monthlyPoints(hi, lo) {
  const pts = [];
  hi.forEach((h, i) => {
    const y = 1990 + Math.floor(i / 12), m = i % 12;
    pts.push({ date: new Date(y, m, 8), v: h });
    pts.push({ date: new Date(y, m, 23), v: lo[i] });
  });
  return pts;
}

currencies.forEach((name, k) => {
  const p = layout[k];
  const base = d3.scaleTime().domain([START, TICK_END]).range([p.x0, p.x1]);
  const x = d3.scaleTime().domain([START, AXIS_END]).range([p.x0, base(AXIS_END)]);
  const y = d3.scaleLinear().domain([-8, 8]).range([p.bottom, p.top]);

  const g = svg.append("g");

  const clipId = "clip" + k;
  g.append("clipPath").attr("id", clipId).append("rect")
    .attr("x", p.x0).attr("y", p.top - 1)
    .attr("width", x.range()[1] - p.x0 + 2).attr("height", p.bottom - p.top + 2);

  // x axis along the -8% line
  const xa = g.append("g").attr("transform", `translate(0,${p.bottom})`)
    .call(d3.axisBottom(x)
      .tickValues(xTickYears.map(yr => new Date(yr, 0, 1)))
      .tickFormat(d => "1/1/" + String(d.getFullYear()).slice(2))
      .tickSizeInner(4).tickSizeOuter(0));
  xa.select(".domain").attr("stroke", "#444");
  xa.selectAll(".tick line").attr("stroke", "#444");
  xa.selectAll(".tick text")
    .attr("y", 0).attr("dy", null)
    .attr("transform", "translate(0,28) scale(1,1.2)")
    .attr("font-family", SERIF).attr("font-size", 14).attr("fill", "#000")
    .attr("stroke", "#000").attr("stroke-width", 0.25);

  // y axis
  const ya = g.append("g").attr("transform", `translate(${p.x0},0)`)
    .call(d3.axisLeft(y).tickValues(yTicks).tickFormat(d => d + "%")
      .tickSizeInner(4).tickSizeOuter(0).tickPadding(5));
  ya.select(".domain").attr("stroke", "#444");
  ya.selectAll(".tick line").attr("stroke", "#444");
  ya.selectAll(".tick text")
    .attr("font-family", SERIF).attr("font-size", 12.5).attr("fill", "#000")
    .attr("stroke", "#000").attr("stroke-width", 0.2);

  // return series
  const line = d3.line().x(d => x(d.date)).y(d => y(d.v));
  g.append("path")
    .datum(monthlyPoints(seriesHigh[k], seriesLow[k]))
    .attr("clip-path", `url(#${clipId})`)
    .attr("fill", "none").attr("stroke", "#000").attr("stroke-width", 1.6)
    .attr("stroke-linejoin", "bevel")
    .attr("d", line);

  // currency name
  g.append("text")
    .attr("transform", `translate(${p.tx},${p.ty}) scale(1,1.2)`)
    .attr("text-anchor", "middle")
    .attr("font-family", SERIF).attr("font-size", 30).attr("fill", "#000")
    .attr("stroke", "#000").attr("stroke-width", 0.5)
    .text(name);
});
</script>
</body>
</html>
